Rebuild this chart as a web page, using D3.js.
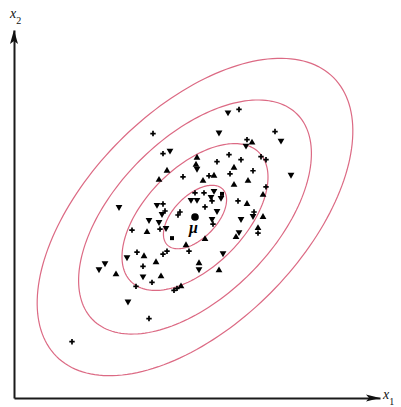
<!DOCTYPE html>
<html>
<head>
<meta charset="utf-8">
<script src="https://cdn.jsdelivr.net/npm/d3@7/dist/d3.min.js"></script>
<style>
  html, body { margin: 0; padding: 0; background: #fff; }
  svg { display: block; }
</style>
</head>
<body>
<div id="chart"></div>
<script>
// Bivariate normal sample with constant-density contours around the mean.
const sampleX = [139,214,225,205,261,267,233,232,238,149,156,183,215,203,227,247,252,182,183,153,
                 145,169,195,200,216,220,239,189,220,234,252,277,181,190,200,197,208,207,177,183,
                 224,233,249,143,149,151,148,105,191,198,203,166,164,198,199,227,240,239,249,135,
                 145,152,146,118,133,225,244,244,222,158,191,172,175,123,130,113,149,153,209,142,
                 185,185,205,129,91,85,102,129,147,138,122,160,163,167,114,135,58];
const sampleY = [263,284,287,264,265,256,257,251,254,243,246,239,242,235,237,240,237,232,228,226,
                 217,220,221,221,223,229,226,216,212,216,210,222,204,204,206,200,203,199,197,197,
                 196,193,202,192,193,186,183,190,190,196,186,185,182,178,173,178,185,181,180,177,
                 175,169,168,167,165,165,169,164,160,159,158,152,146,145,141,140,143,146,144,135,
                 134,128,127,131,134,128,123,121,121,115,111,107,109,111,96,79,56];
const sampleMark = ["plus","down","plus","down","plus","down","plus","down","up","plus",
                    "down","up","plus","plus","plus","plus","plus","up","down","up",
                    "up","plus","plus","up","plus","up","plus","up","up","up",
                    "plus","down","plus","plus","down","down","square","down","down","down",
                    "plus","up","up","down","plus","plus","down","down","plus","plus",
                    "down","plus","plus","down","plus","down","plus","down","up","down",
                    "down","down","plus","plus","up","down","up","plus","up","square",
                    "up","up","plus","plus","up","down","plus","plus","down","up",
                    "up","down","up","plus","down","down","up","down","up","plus",
                    "plus","plus","plus","up","down","plus","plus"];

// Distribution parameters
const meanVec = [181, 180];
const covMatrix = [[1557, 844], [844, 1557]];
const contourLevels = [0.8, 1.85, 2.95, 4];   // Mahalanobis radii

const axisDomain = [0, 366];
const xLabel = ["x", "1"];
const yLabel = ["x", "2"];
const meanLabel = "\u03bc";

const W = 401, H = 407;
const svg = d3.select("#chart").append("svg").attr("width", W).attr("height", H);

const x = d3.scaleLinear().domain(axisDomain).range([14, 380]);
const y = d3.scaleLinear().domain(axisDomain).range([398, 30]);

// Eigen-decomposition of the 2x2 covariance
const a = covMatrix[0][0], b = covMatrix[0][1], c = covMatrix[1][1];
const tr = a + c, det = a * c - b * b;
const disc = Math.sqrt(tr * tr / 4 - det);
const l1 = tr / 2 + disc, l2 = tr / 2 - disc;
const theta = Math.atan2(l1 - a, b);
const e1 = [Math.cos(theta), Math.sin(theta)];
const e2 = [-Math.sin(theta), Math.cos(theta)];

const tSteps = d3.range(0, 2 * Math.PI, Math.PI / 90);
const ellipse = k => tSteps.map(t => [
  meanVec[0] + k * (Math.sqrt(l1) * Math.cos(t) * e1[0] + Math.sqrt(l2) * Math.sin(t) * e2[0]),
  meanVec[1] + k * (Math.sqrt(l1) * Math.cos(t) * e1[1] + Math.sqrt(l2) * Math.sin(t) * e2[1])
]);

const line = d3.line().x(d => x(d[0])).y(d => y(d[1])).curve(d3.curveLinearClosed);

svg.append("g").selectAll("path").data(contourLevels).join("path")
  .attr("d", k => line(ellipse(k)))
  .attr("fill", "none")
  .attr("stroke", "#dc6a84")
  .attr("stroke-width", 1.2);

// Axes (no ticks) with arrowheads
const gx = svg.append("g").attr("transform", `translate(0,${y(0)})`)
  .call(d3.axisBottom(x).tickValues([]).tickSizeOuter(0));
const gy = svg.append("g").attr("transform", `translate(${x(0)},0)`)
  .call(d3.axisLeft(y).tickValues([]).tickSizeOuter(0));
svg.selectAll(".domain").attr("stroke", "#1a1a1a").attr("stroke-width", 2);

const xe = x(axisDomain[1]), ye = y(axisDomain[1]);
svg.append("path")
  .attr("d", `M${xe},${y(0)}L${xe - 14},${y(0) - 3.5}L${xe - 11},${y(0)}L${xe - 14},${y(0) + 3.5}Z`)
  .attr("fill", "#111");
svg.append("path")
  .attr("d", `M${x(0)},${ye}L${x(0) - 4},${ye + 14}L${x(0)},${ye + 11}L${x(0) + 4},${ye + 14}Z`)
  .attr("fill", "#111");

// Axis labels
const lab = (px, py, parts) => {
  const t = svg.append("text").attr("x", px).attr("y", py)
    .attr("font-family", "'Liberation Serif', 'DejaVu Serif', serif")
    .attr("font-size", 14).attr("fill", "#111");
  t.append("tspan").attr("font-style", "italic").text(parts[0]);
  t.append("tspan").attr("font-size", 10).attr("dy", 6).text(parts[1]);
};
lab(10, 18, yLabel);
lab(383, 399, xLabel);

// Sample points
const pts = sampleX.map((v, i) => ({ x: v, y: sampleY[i], m: sampleMark[i] }));
const g = svg.append("g");
const triUp = d3.symbol(d3.symbolTriangle, 20)();
const sq = d3.symbol(d3.symbolSquare, 16)();
pts.forEach(p => {
  const tx = x(p.x), ty = y(p.y);
  if (p.m === "plus") {
    g.append("path").attr("d", "M-2.7,0H2.7M0,-2.7V2.7")
      .attr("transform", `translate(${tx},${ty})`)
      .attr("stroke", "#000").attr("stroke-width", 1.7).attr("fill", "none");
  } else if (p.m === "square") {
    g.append("path").attr("d", sq).attr("transform", `translate(${tx},${ty})`).attr("fill", "#000");
  } else {
    g.append("path").attr("d", triUp)
      .attr("transform", `translate(${tx},${ty})` + (p.m === "down" ? " rotate(180)" : ""))
      .attr("fill", "#000");
  }
});

// Mean marker and label
svg.append("circle").attr("cx", x(meanVec[0])).attr("cy", y(meanVec[1])).attr("r", 3.8).attr("fill", "#000");
svg.append("text").attr("x", x(meanVec[0]) - 6).attr("y", y(meanVec[1]) + 16)
  .attr("font-family", "'Liberation Serif', 'DejaVu Serif', serif")
  .attr("font-style", "italic").attr("font-weight", "bold")
  .attr("font-size", 16).attr("fill", "#000").text(meanLabel);
</script>
</body>
</html>
